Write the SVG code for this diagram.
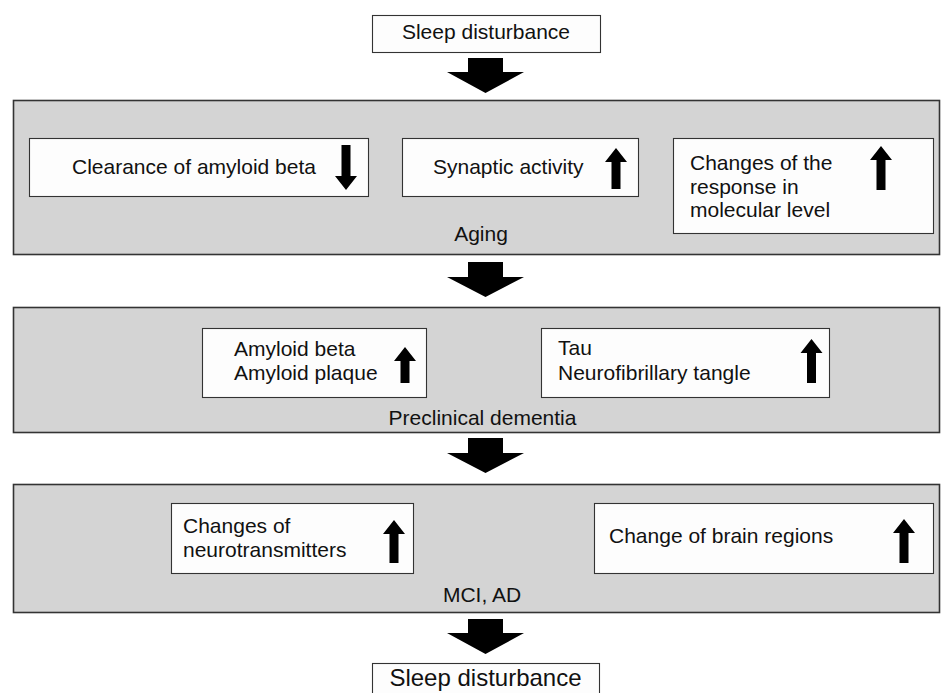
<svg xmlns="http://www.w3.org/2000/svg" width="941" height="693" viewBox="0 0 941 693">
<style>
  text { font-family: "Liberation Sans", Arial, sans-serif; font-size: 21px; fill: #111; }
  .panel { fill: #d4d4d4; stroke: #333; stroke-width: 1.6; }
  .box { fill: #fdfdfd; stroke: #333; stroke-width: 1.1; }
  .big { fill: #000; }
  .small { fill: #000; }
  .c { text-anchor: middle; }
</style>
<rect width="941" height="693" fill="#fff"/>

<g id="sleep-top">
  <rect class="box" x="372.5" y="15.5" width="228" height="37"/>
  <text class="c" x="486" y="39">Sleep disturbance</text>
</g>

<g id="aging">
  <rect class="panel" x="13.5" y="100.5" width="926" height="154"/>
  <text class="c" x="481" y="241">Aging</text>
</g>
<g id="clearance">
  <rect class="box" x="29.5" y="138.5" width="339" height="58"/>
  <text x="72" y="174">Clearance of amyloid beta</text>
  <path class="small" d="M341.5,145 H350.5 V176 H357 L346,190 L335,176 H341.5 Z"/>
</g>
<g id="synaptic">
  <rect class="box" x="402.5" y="138.5" width="236" height="58"/>
  <text x="433" y="174">Synaptic activity</text>
  <path class="small" d="M616,148 L627,162 H620.5 V189 H611.5 V162 H605 Z"/>
</g>
<g id="molecular">
  <rect class="box" x="673.5" y="138.5" width="260" height="95"/>
  <text x="690" y="170">Changes of the</text>
  <text x="690" y="193.5">response in</text>
  <text x="690" y="217">molecular level</text>
  <path class="small" d="M881,146 L892,160 H885.5 V190 H876.5 V160 H870 Z"/>
</g>

<g id="preclinical">
  <rect class="panel" x="13.5" y="307.5" width="926" height="125"/>
  <text class="c" x="482.5" y="425">Preclinical dementia</text>
</g>
<g id="amyloid">
  <rect class="box" x="202.5" y="328.5" width="224" height="69"/>
  <text x="234" y="356">Amyloid beta</text>
  <text x="234" y="380">Amyloid plaque</text>
  <path class="small" d="M405,347 L416,361 H409.5 V383 H400.5 V361 H394 Z"/>
</g>
<g id="tau">
  <rect class="box" x="541.5" y="328.5" width="288" height="69"/>
  <text x="558" y="355">Tau</text>
  <text x="558" y="380">Neurofibrillary tangle</text>
  <path class="small" d="M811.5,339 L822.5,353 H816 V383 H807 V353 H800.5 Z"/>
</g>

<g id="mci-ad">
  <rect class="panel" x="13.5" y="484.5" width="926" height="128"/>
  <text class="c" x="482" y="602">MCI, AD</text>
</g>
<g id="neurotransmitters">
  <rect class="box" x="171.5" y="503.5" width="242" height="70"/>
  <text x="183" y="533">Changes of</text>
  <text x="183" y="557">neurotransmitters</text>
  <path class="small" d="M394,520 L405,534 H398.5 V563 H389.5 V534 H383 Z"/>
</g>
<g id="brain-regions">
  <rect class="box" x="594.5" y="503.5" width="339" height="70"/>
  <text x="609" y="543">Change of brain regions</text>
  <path class="small" d="M904,519 L915,533 H908.5 V563 H899.5 V533 H893 Z"/>
</g>

<g id="sleep-bottom">
  <rect class="box" x="372.5" y="663.5" width="227" height="32"/>
  <text class="c" x="485.5" y="686" style="font-size:24px">Sleep disturbance</text>
</g>

<g id="connectors">
  <path class="big" d="M468,58 H503 V72 H524 L485.5,93 L447,72 H468 Z"/>
  <path class="big" d="M468,262 H503 V277 H524 L485.5,297 L447,277 H468 Z"/>
  <path class="big" d="M468,438 H503 V453 H524 L485.5,473 L447,453 H468 Z"/>
  <path class="big" d="M468,619 H503 V633 H524 L485.5,654 L447,633 H468 Z"/>
</g>
</svg>
